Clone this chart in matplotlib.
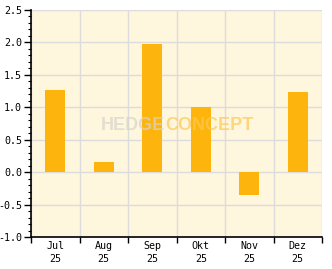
import matplotlib
matplotlib.use("Agg")
import matplotlib.pyplot as plt
import numpy as np

# monthly values
months = ["Jul", "Aug", "Sep", "Okt", "Nov", "Dez"]
years = ["25", "25", "25", "25", "25", "25"]
values = [1.26, 0.16, 1.98, 1.01, -0.36, 1.24]

fig = plt.figure(figsize=(3.32, 2.69), dpi=100)
ax = fig.add_axes([31 / 332, 32 / 269, 291 / 332, 227 / 269])
ax.set_facecolor("#fff6de")

x = np.arange(len(months))
ax.bar(x, values, width=0.42, color="#fdb50e", zorder=3)

ax.set_xlim(-0.5, len(months) - 0.5)
ax.set_ylim(-1.0, 2.5)

# grid on category boundaries
ax.set_xticks(np.arange(len(months) + 1) - 0.5)
ax.set_xticklabels([])
ax.set_xticks(x, minor=True)
ax.set_xticklabels([m + "\n" + y for m, y in zip(months, years)], minor=True)
ax.tick_params(axis="x", which="minor", length=0, pad=3)
ax.tick_params(axis="x", which="major", length=4, width=1, direction="out")

ax.set_yticks(np.arange(-1.0, 2.51, 0.5))
ax.set_yticklabels(["%.1f" % v for v in np.arange(-1.0, 2.51, 0.5)])
ax.set_yticks(np.arange(-1.0, 2.51, 0.1), minor=True)
ax.tick_params(axis="y", which="major", length=5, width=1, pad=1.5)
ax.tick_params(axis="y", which="minor", length=2.5, width=0.8)

for lbl in ax.get_xticklabels(minor=True) + ax.get_yticklabels():
    lbl.set_fontfamily("DejaVu Sans Mono")
    lbl.set_fontsize(7.2)
for lbl in ax.get_xticklabels(minor=True):
    lbl.set_linespacing(1.3)

ax.grid(True, which="major", color="#dcdcdc", linewidth=1, zorder=0)
ax.set_axisbelow(True)
for s in ["top", "right"]:
    ax.spines[s].set_visible(False)
for s in ["left", "bottom"]:
    ax.spines[s].set_linewidth(1.2)

# watermark
wm = dict(transform=ax.transAxes, va="center", fontsize=13, fontweight="bold",
          family="Liberation Sans", alpha=0.7, zorder=4)
ax.text(0.46, 0.49, "HEDGE", ha="right", color="#d6d3cc", **wm)
ax.text(0.46, 0.49, "CONCEPT", ha="left", color="#ffc850", **wm)

fig.savefig("out.png", dpi=100)
